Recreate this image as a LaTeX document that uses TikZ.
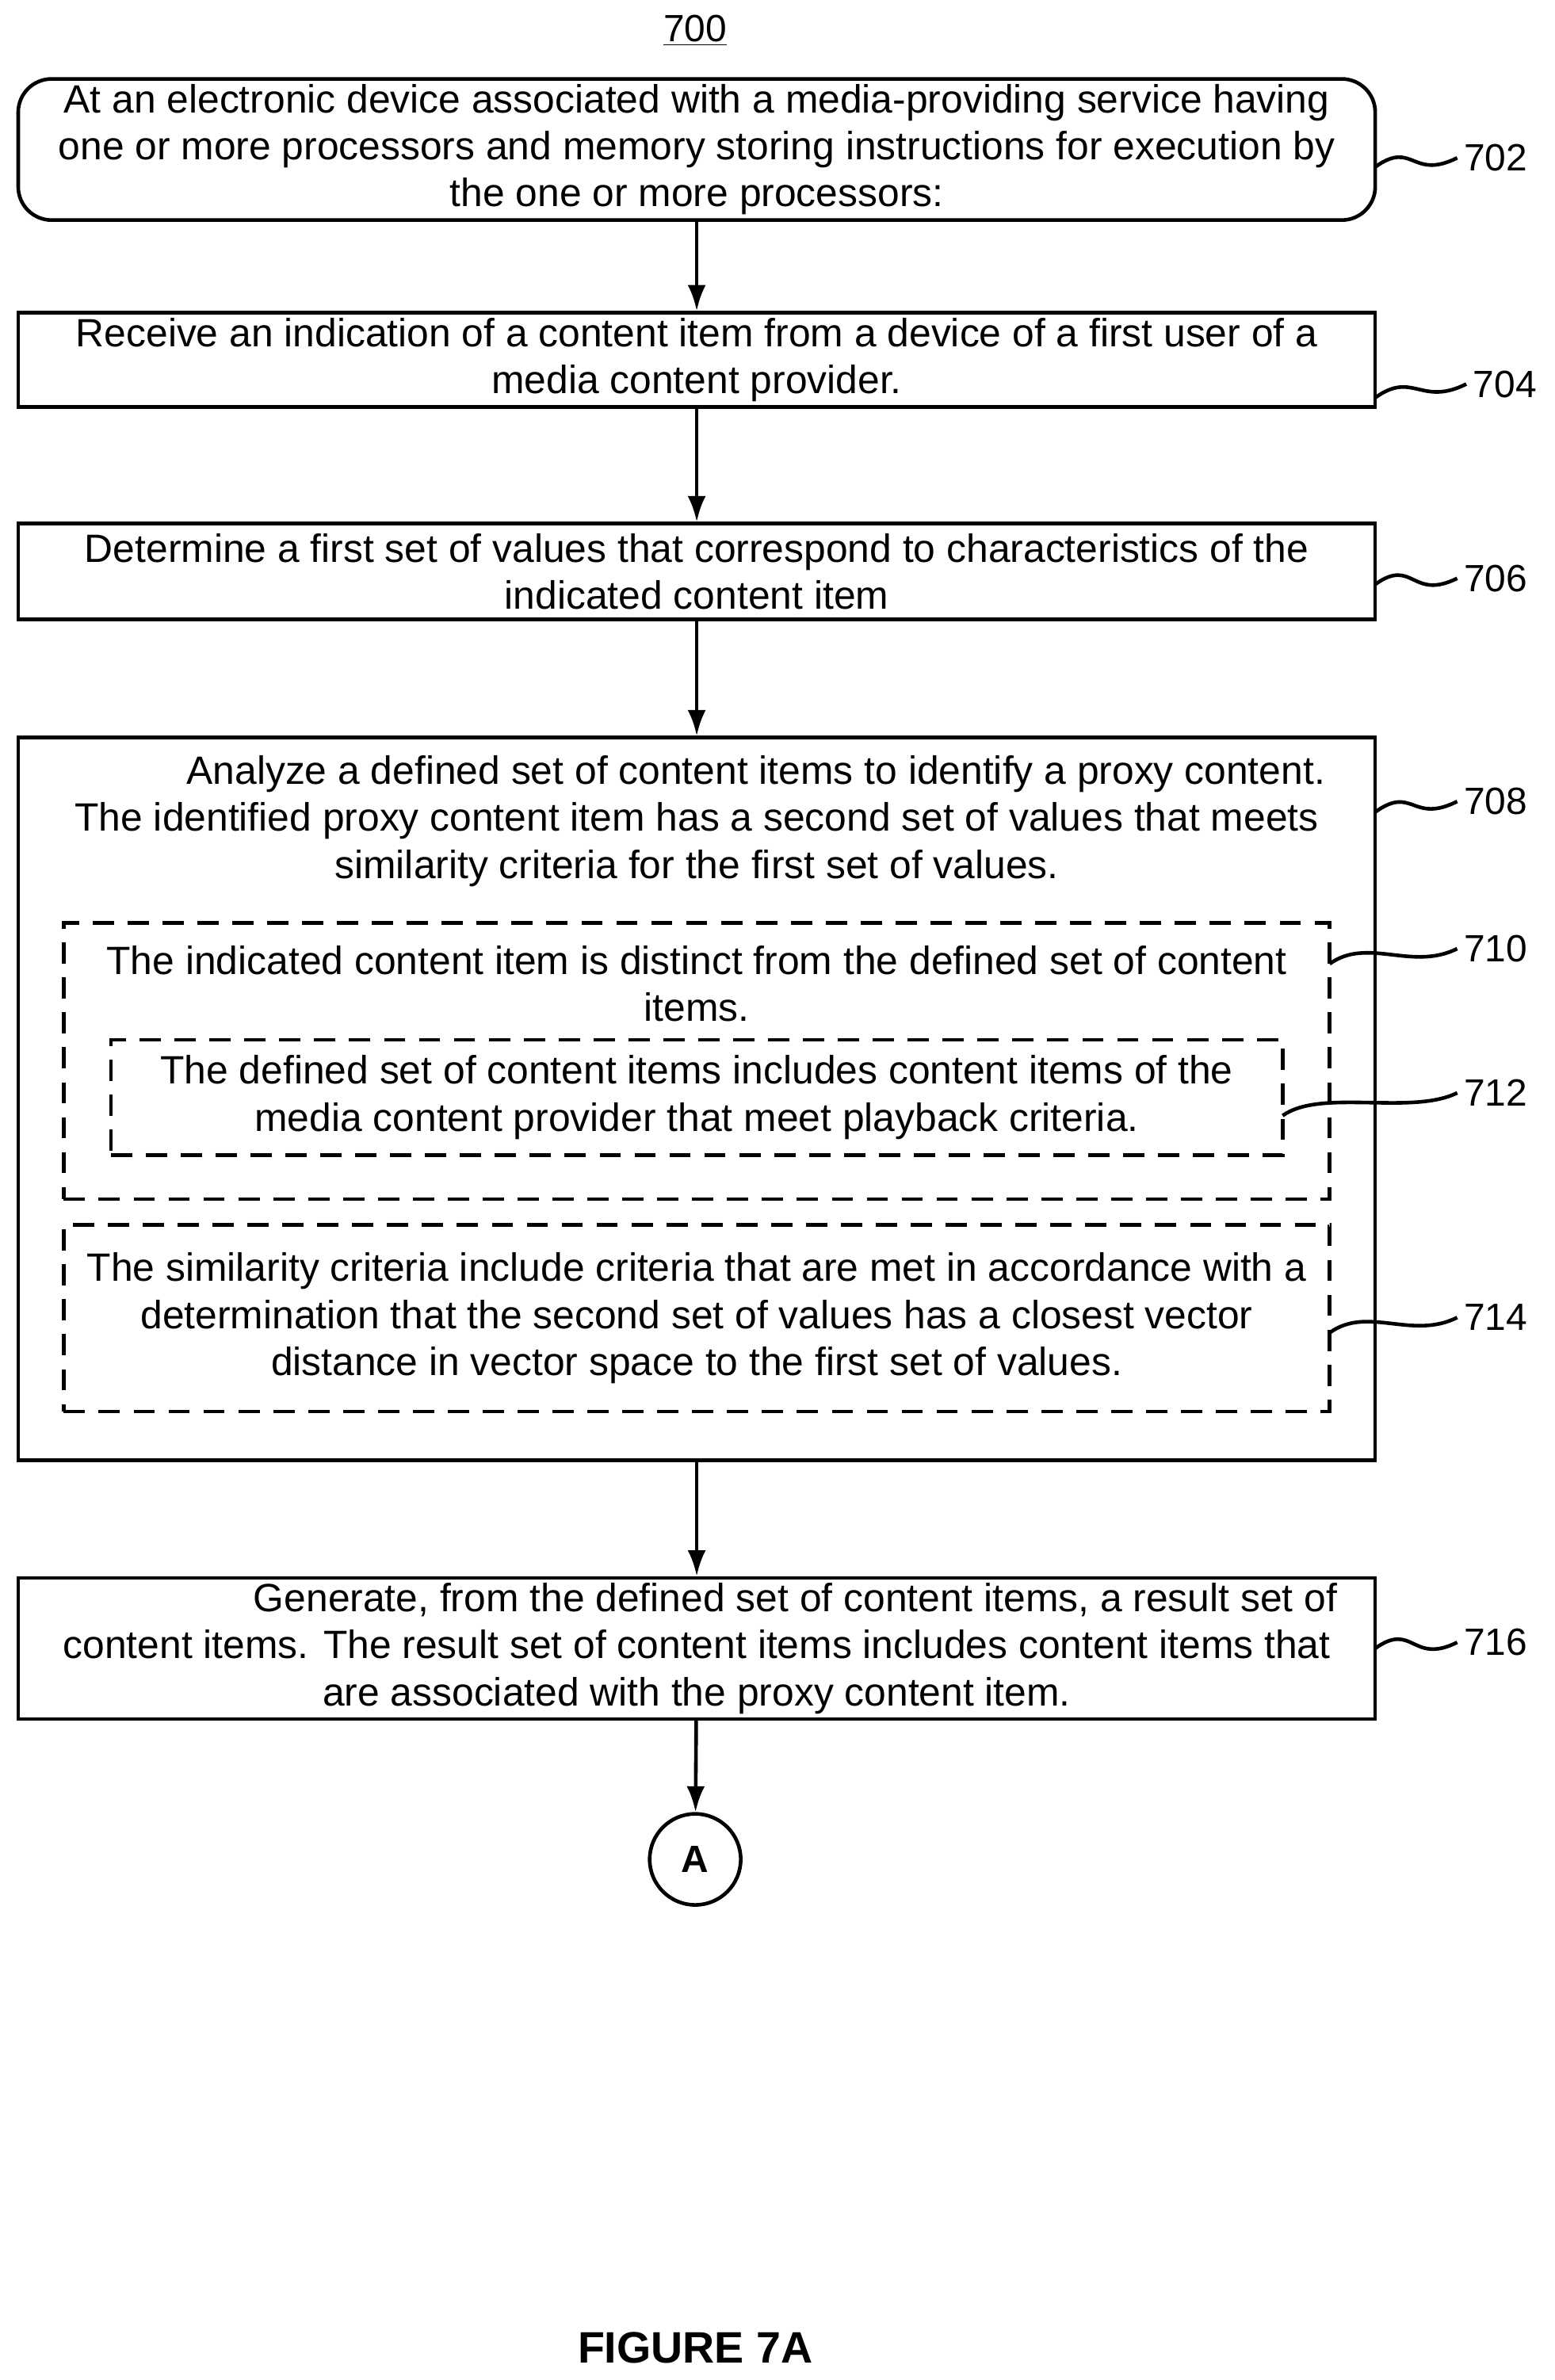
\documentclass[tikz,border=0pt]{standalone}
\usepackage{fontspec}
\setmainfont{Liberation Sans}
\usetikzlibrary{arrows.meta}
\begin{document}
\begin{tikzpicture}[x=1pt,y=-1pt, line width=2.4pt,
    stepbox/.style={draw, minimum width=894pt, align=center, font=\fontsize{26}{31}\selectfont},
    dashbox/.style={draw, dash pattern=on 14pt off 9pt, align=center, font=\fontsize{26}{31}\selectfont},
    flow/.style={-{Latex[length=17pt,width=12pt]}},
    refnum/.style={font=\fontsize{25}{28}\selectfont, anchor=west}]
    \useasboundingbox (0,0) rectangle (1024,1568);
    % title
    \node[font=\fontsize{25}{28}\selectfont] (title) at (458,20) {\underline{700}};
    % steps
    \node[stepbox, rounded corners=22pt, minimum height=93pt] (s702) at (459,98.5)
        {At an electronic device associated with a media-providing service having\\one or more processors and memory storing instructions for execution by\\the one or more processors:};
    \node[stepbox, minimum height=62pt] (s704) at (459,237)
        {Receive an indication of a content item from a device of a first user of a\\media content provider.};
    \node[stepbox, minimum height=63pt] (s706) at (459,376.5)
        {Determine a first set of values that correspond to characteristics of the\\indicated content item};
    \node[stepbox, minimum height=476pt] (s708) at (459,724) {};
    \node[font=\fontsize{26}{31}\selectfont, align=center] (t708) at (459,541)
        {\hspace*{3em}Analyze a defined set of content items to identify a proxy content.\\The identified proxy content item has a second set of values that meets\\similarity criteria for the first set of values.};
    \node[dashbox, minimum width=834pt, minimum height=182pt] (s710) at (459,699) {};
    \node[font=\fontsize{26}{31}\selectfont, align=center] (t710) at (459,648)
        {The indicated content item is distinct from the defined set of content\\items.};
    \node[dashbox, minimum width=772pt, minimum height=76pt] (s712) at (459,723)
        {The defined set of content items includes content items of the\\media content provider that meet playback criteria.};
    \node[dashbox, minimum width=834pt, minimum height=123pt] (s714) at (459,868.5)
        {The similarity criteria include criteria that are met in accordance with a\\determination that the second set of values has a closest vector\\distance in vector space to the first set of values.};
    \node[stepbox, minimum height=92pt] (s716) at (459,1086)
        {\hspace*{5em}Generate, from the defined set of content items, a result set of\\content items. The result set of content items includes content items that\\are associated with the proxy content item.};
    \node[draw, circle, minimum size=60pt, font=\fontsize{25}{28}\selectfont\bfseries] (conA) at (458,1225) {A};
    \node[font=\fontsize{29}{32}\selectfont\bfseries] (fig) at (458,1547) {FIGURE 7A};
    % arrows
    \draw[flow] (s702) -- (s704);
    \draw[flow] (s704) -- (s706);
    \draw[flow] (s706) -- (s708);
    \draw[flow] (s708) -- (s716);
    \draw[flow] (s716) -- (conA);
    % reference numerals
    \foreach \nm/\x/\y/\lx/\ly in {702/906/110/960/104, 704/906/262/966/253, 706/906/385/960/381,
        708/906/535/960/528, 710/876/635/960/625, 712/845/735/960/720, 714/876/878/960/868, 716/906/1086/960/1082}{
        \node[refnum] (r\nm) at (\lx,\ly) {\nm};
        \draw (\x,\y) .. controls (\x+25,\y-18) and (\lx-30,\ly+15) .. (r\nm.west);
    }
\end{tikzpicture}
\end{document}
